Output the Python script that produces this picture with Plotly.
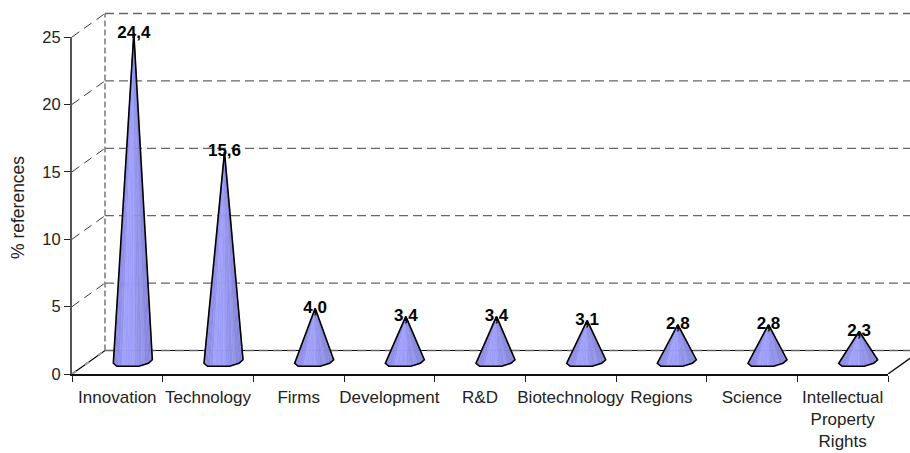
import plotly.graph_objects as go

categories = ["Innovation", "Technology", "Firms", "Development", "R&amp;D", "Biotechnology",
              "Regions", "Science", "Intellectual<br>Property<br>Rights"]
values = [24.4, 15.6, 4.0, 3.4, 3.4, 3.1, 2.8, 2.8, 2.3]
value_labels = ["24,4", "15,6", "4,0", "3,4", "3,4", "3,1", "2,8", "2,8", "2,3"]
y_ticks = [0, 5, 10, 15, 20, 25]

# pixel scale of the axes
LEFT, RIGHT, FLOOR, PLOT_W = 72, 888, 374, 816
UX = PLOT_W / len(categories)
UY = 13.48
x0 = -0.5
x1 = len(categories) - 0.5
XMAX = x1 + (910 - RIGHT) / UX
YMAX = (FLOOR - 10) / UY
DX = 33 / UX       # depth offset in x units
DY = 23.5 / UY     # depth offset in y units

fig = go.Figure()


def line(xs, ys, color, width, dash="solid"):
    fig.add_trace(go.Scatter(x=xs, y=ys, mode="lines", line=dict(color=color, width=width, dash=dash),
                             hoverinfo="skip", showlegend=False, cliponaxis=False))


# back floor edge and right floor edge
line([x0, x0 + DX, XMAX], [0, DY, DY], "#000000", 1.2)
line([x1, XMAX], [0, (XMAX - x1) / DX * DY], "#111111", 1.4)
# left wall diagonals
for t in y_ticks[1:]:
    line([x0, x0 + DX], [t, t + DY], "#222222", 0.9, "9px,6px")
# back wall gridlines
for t in y_ticks:
    line([x0 + DX, XMAX], [t + DY, t + DY], "#666666", 1.3, "9px,5px")
# grey dash on floor diagonal
line([x0, x0 + DX], [0, DY], "#999999", 2, "5px,11px")
# back vertical
line([x0 + DX, x0 + DX], [DY, 25 + DY], "#808080", 1.6, "6px,3px")

# cones, built as gores so the surface has the vertical shading of the reference
base_px = [(-20.5, 1.0), (-17, 4.0), (-9, 4.0), (-1, 4.0), (5, 4.0), (14.5, 1.0), (18.5, -2.5)]


def shade(f, stripe):
    # f runs 0..1 across the cone, brightest left of centre, darkest at the right edge
    peak = 0.38
    t = f / peak if f < peak else (1 - f) / (1 - peak)
    r = 0x82 + (0xa0 - 0x82) * t + (10 if stripe else 0)
    b = 0xd8 + (0xff - 0xd8) * t
    return "rgb(%d,%d,%d)" % (min(r, 255), min(r, 255), min(b, 255))


def bx(c, px):
    return c + px / UX


def by(py):
    return -py / UY


for i, v in enumerate(values):
    cx = i + DX / 2
    base = DY / 2
    tip = base + v
    pts = []
    for k in range(len(base_px) - 1):
        a, b = base_px[k], base_px[k + 1]
        for s in range(3):
            f0, f1 = s / 3, (s + 1) / 3
            pts.append(((a[0] + (b[0] - a[0]) * f0, a[1] + (b[1] - a[1]) * f0),
                        (a[0] + (b[0] - a[0]) * f1, a[1] + (b[1] - a[1]) * f1)))
    for j, (p, q) in enumerate(pts):
        col = shade(j / (len(pts) - 1), j % 4 == 1)
        fig.add_trace(go.Scatter(
            x=[cx, bx(cx, p[0]), bx(cx, q[0]), cx],
            y=[tip, base + by(p[1]), base + by(q[1]), tip],
            mode="lines", fill="toself", fillcolor=col, line=dict(width=0.5, color=col),
            hoverinfo="skip", showlegend=False))
    ox = [cx] + [bx(cx, p[0]) for p in base_px] + [cx]
    oy = [tip] + [base + by(p[1]) for p in base_px] + [tip]
    fig.add_trace(go.Scatter(x=ox, y=oy, mode="lines", line=dict(color="#000000", width=1.6),
                             hoverinfo="skip", showlegend=False))

fig.add_trace(go.Scatter(
    x=[i + DX / 2 for i in range(len(values))],
    y=[v + DY / 2 for v in values],
    mode="text", text=value_labels, textposition="middle center",
    textfont=dict(family="Liberation Sans", size=17, color="#000000", weight="bold"),
    hoverinfo="skip", showlegend=False, cliponaxis=False))

# front axes: a second pair of real axes that stop where the reference's front edges stop
fig.add_trace(go.Scatter(x=[0], y=[0], xaxis="x2", yaxis="y2", mode="markers",
                         marker=dict(size=1, opacity=0), hoverinfo="skip", showlegend=False))

TOTAL_W = 910 - LEFT
TOTAL_H = FLOOR - 10
fig.update_layout(
    width=910, height=453, autosize=False,
    margin=dict(l=LEFT, r=0, t=10, b=453 - FLOOR),
    paper_bgcolor="#ffffff", plot_bgcolor="rgba(0,0,0,0)",
    font=dict(family="Liberation Sans", size=17, color="#222222"),
    xaxis=dict(range=[x0, XMAX], visible=False, domain=[0, 1]),
    yaxis=dict(range=[0, YMAX], visible=False, domain=[0, 1]),
    xaxis2=dict(range=[x0, x1], domain=[0, PLOT_W / TOTAL_W], anchor="y2",
                tickvals=list(range(len(categories))), ticktext=categories,
                ticks="outside", ticklen=7, tickcolor="rgba(0,0,0,0)",
                showgrid=False, zeroline=False, showline=True, linecolor="#111111", linewidth=1.6,
                tickfont=dict(size=17),
                minor=dict(tickvals=[x0 + k for k in range(len(categories) + 1)], ticklen=6,
                           ticks="outside", tickcolor="#222222", tickwidth=1, showgrid=False)),
    yaxis2=dict(range=[0, 25], domain=[0, 25 * UY / TOTAL_H], anchor="x2",
                tickvals=y_ticks, ticks="outside", ticklen=6, tickcolor="#222222", tickwidth=1,
                showgrid=False, zeroline=False, showline=True, linecolor="#555555", linewidth=2,
                tickfont=dict(size=16.5)),
    annotations=[dict(text="% references", xref="paper", yref="paper",
                      x=-(LEFT - 18) / TOTAL_W, y=(FLOOR - 207) / TOTAL_H,
                      xanchor="center", yanchor="middle", textangle=-90, showarrow=False,
                      font=dict(size=17.5, color="#222222"))],
)
fig.write_html("out.html", post_script="document.body.style.margin='0';",
               config={"displayModeBar": False})
